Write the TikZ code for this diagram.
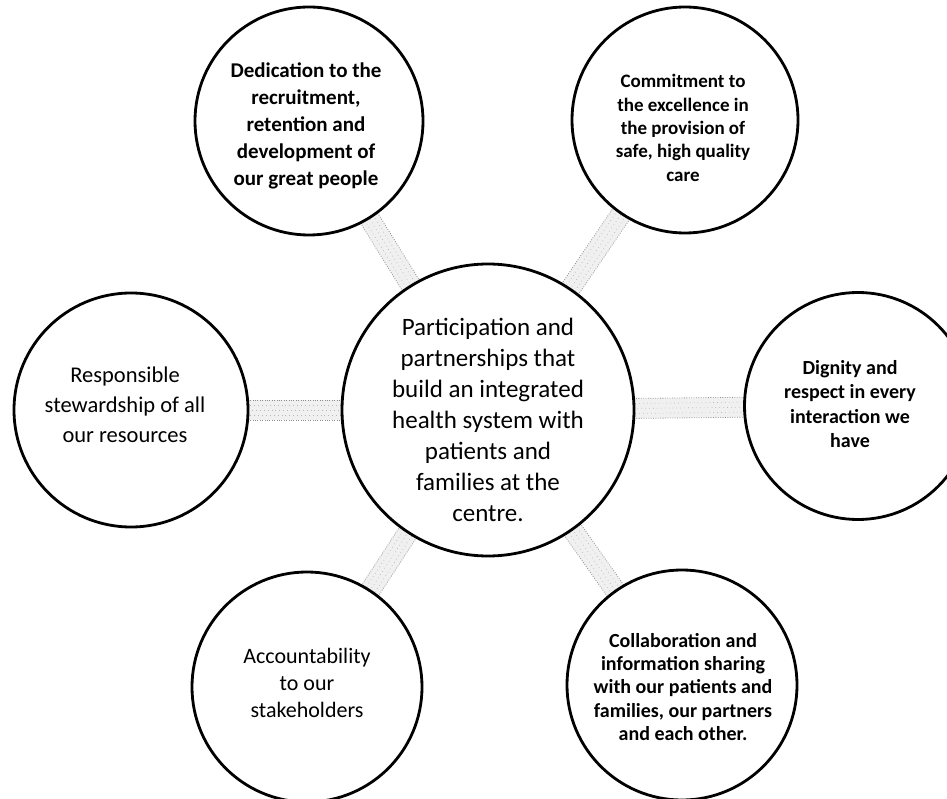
\documentclass[tikz,border=0pt]{standalone}
\usepackage{fontspec}
\setmainfont{Carlito}
\usetikzlibrary{backgrounds,calc}
\newcommand\linkbar[2]{%
  \path (#1) -- (#2) coordinate[pos=0] (q1) coordinate[pos=1] (q2);
  \coordinate (p1) at ($(q1)!-4pt!(q2)$);
  \coordinate (p2) at ($(q2)!-4pt!(q1)$);
  \fill[barfill] ($(p1)!10pt!90:(p2)$) -- ($(p2)!10pt!-90:(p1)$) -- ($(p2)!10pt!90:(p1)$) -- ($(p1)!10pt!-90:(p2)$) -- cycle;
  \draw[edgedots] ($(p1)!10pt!90:(p2)$) -- ($(p2)!10pt!-90:(p1)$);
  \draw[edgedots] ($(p1)!10pt!-90:(p2)$) -- ($(p2)!10pt!90:(p1)$);
  \draw[innerdots] ($(p1)!5pt!90:(p2)$) -- ($(p2)!5pt!-90:(p1)$);
  \draw[innerdots, dash phase=1.7pt] (p1) -- (p2);
  \draw[innerdots] ($(p1)!5pt!-90:(p2)$) -- ($(p2)!5pt!90:(p1)$);
}
\begin{document}
\begin{tikzpicture}[x=1pt,y=-1pt,
  ring/.style={circle, draw=black, line width=2.8pt, fill=white, inner sep=0pt},
  label/.style={align=center, inner sep=0pt},
  barfill/.style={fill=black!6},
  edgedots/.style={draw=black!45, line width=0.8pt, dash pattern=on 0.8pt off 1.6pt},
  innerdots/.style={draw=black!28, line width=0.7pt, dash pattern=on 0.7pt off 3.2pt}
]
\useasboundingbox (0,0) rectangle (947,799);
\node[ring, minimum size=292pt] (C) at (488,410) {};
\node[ring, minimum size=228pt] (TL) at (309,121) {};
\node[ring, minimum size=226pt] (TR) at (685,120) {};
\node[ring, minimum size=234pt] (L) at (131,410) {};
\node[ring, minimum size=227pt] (R) at (858,406) {};
\node[ring, minimum size=230pt] (BL) at (307,687) {};
\node[ring, minimum size=230pt] (BR) at (682,685) {};

\node[label, font=\fontsize{25}{31}\selectfont] (tC) at (488,420)
  {Participation and\\ partnerships that\\ build an integrated\\ health system with\\ patients and\\ families at the\\ centre.};
\node[label, font=\bfseries\fontsize{21}{27}\selectfont] (tTL) at (306,126)
  {Dedication to the\\ recruitment,\\ retention and\\ development of\\ our great people};
\node[label, font=\bfseries\fontsize{19}{23.3}\selectfont] (tTR) at (683,128)
  {Commitment to\\ the excellence in\\ the provision of\\ safe, high quality\\ care};
\node[label, font=\fontsize{22.5}{30}\selectfont] (tL) at (125,405)
  {Responsible\\ stewardship of all\\ our resources};
\node[label, font=\bfseries\fontsize{20}{24.5}\selectfont] (tR) at (850,404)
  {Dignity and\\ respect in every\\ interaction we\\ have};
\node[label, font=\fontsize{22}{27}\selectfont] (tBL) at (307,683)
  {Accountability\\ to our\\ stakeholders};
\node[label, font=\bfseries\fontsize{20}{23.3}\selectfont] (tBR) at (683,687)
  {Collaboration and\\ information sharing\\ with our patients and\\ families, our partners\\ and each other.};

\begin{scope}[on background layer]
  \foreach \o in {TL,TR,L,R,BL,BR}{\linkbar{C}{\o}}
\end{scope}
\end{tikzpicture}
\end{document}
